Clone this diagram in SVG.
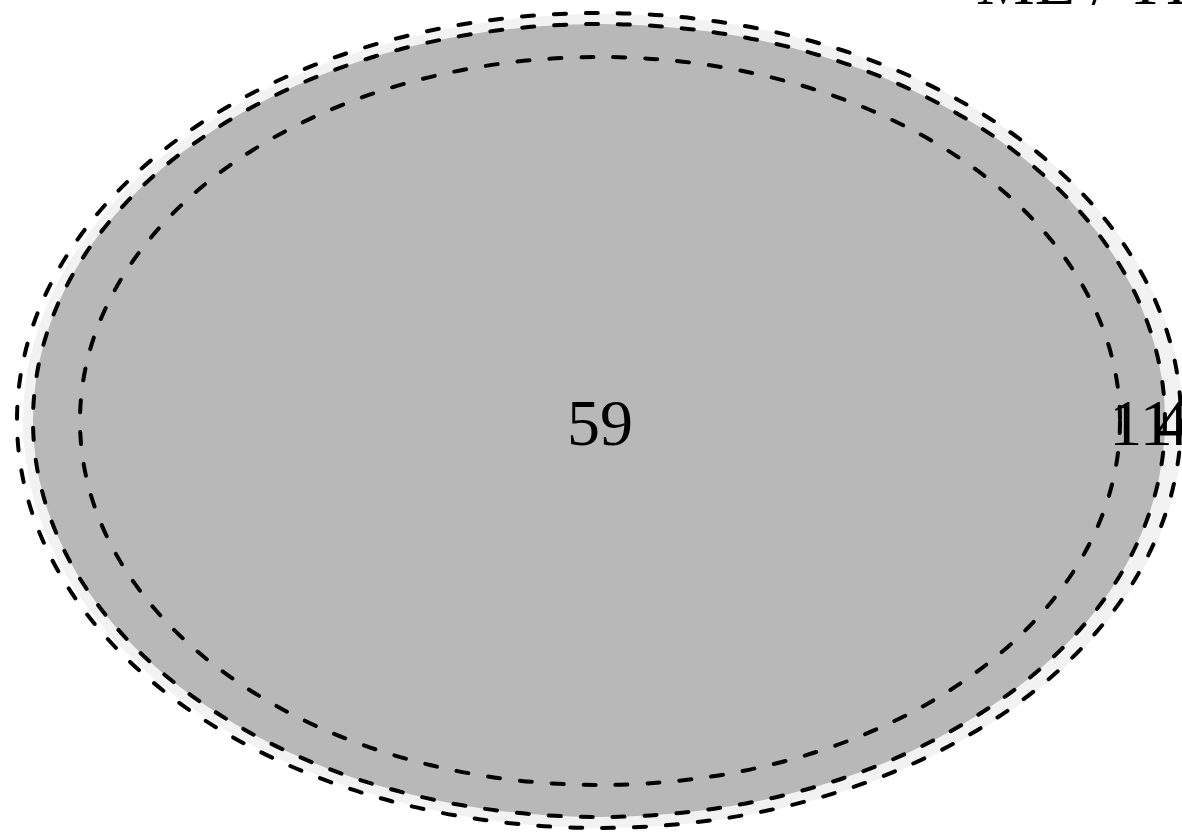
<svg xmlns="http://www.w3.org/2000/svg" width="1182" height="832" viewBox="0 0 1182 832">
  <style>
    .outline { fill: none; stroke: #000; stroke-width: 4; stroke-dasharray: 12 20; stroke-linecap: round; }
    .lbl { font-family: "Liberation Serif", "Times New Roman", serif; font-size: 66px; fill: #000; }
  </style>
  <rect x="0" y="0" width="1182" height="832" fill="#ffffff"/>
  <g id="set-outer">
    <ellipse cx="603" cy="421" rx="580" ry="407" fill="#f2f2f2"/>
  </g>
  <g id="set-middle">
    <ellipse cx="599" cy="420.5" rx="566" ry="396.5" fill="#b8b8b8"/>
  </g>
  <g id="outlines">
    <ellipse class="outline" cx="599" cy="420.5" rx="582" ry="407.5"/>
    <ellipse class="outline" cx="599" cy="420.5" rx="566" ry="396.5"/>
    <ellipse class="outline" cx="600" cy="421" rx="520" ry="364"/>
  </g>
  <g id="labels">
    <text class="lbl" x="600" y="445" text-anchor="middle">59</text>
    <text class="lbl" x="1141" y="445" text-anchor="middle">11</text>
    <text class="lbl" x="1172" y="445" text-anchor="middle">4</text>
    <text class="lbl" x="976" y="4">ME / TI</text>
  </g>
</svg>
